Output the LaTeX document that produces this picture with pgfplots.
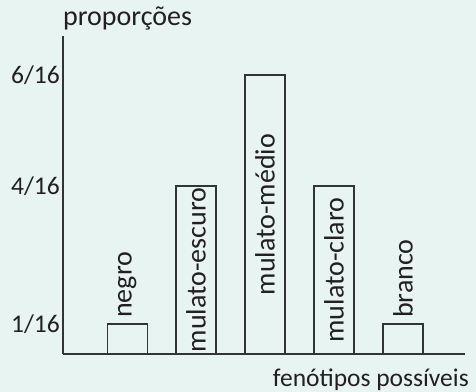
\documentclass[border=0pt]{standalone}
\usepackage{fontspec}
\setmainfont{Carlito}
\usepackage{pgfplots}
\pgfplotsset{compat=1.18}
\definecolor{bgmint}{HTML}{E8F4F2}
\definecolor{ink}{HTML}{231F20}
\definecolor{lineink}{HTML}{333333}
\newcommand\wordfont{\fontsize{28bp}{32bp}\selectfont}
\newcommand\labelfont{\fontsize{25.5bp}{30bp}\selectfont}
\newcommand\tickfont{\fontsize{25.5bp}{30bp}\selectfont}

\begin{document}
\begin{tikzpicture}
% page background
\fill[bgmint] (-63bp,-38bp) rectangle (413bp,354bp);
\begin{axis}[
  at={(0,0)}, anchor=south west,
  scale only axis, width=402bp, height=318bp,
  xmin=0.07, xmax=5.9, ymin=0, ymax=10.6,
  axis x line=bottom, axis y line=left,
  axis line style={-, lineink, line width=1.2bp},
  xtick=\empty,
  ytick={1,5.6,9.3}, yticklabels={\mbox{1/16},\mbox{4/16},\mbox{6/16}},
  major tick length=0pt,
  yticklabel style={inner sep=0pt, xshift=-3bp, text=ink, font=\tickfont},
  xlabel={fenótipos possíveis},
  xlabel style={at={(axis description cs:1,0)}, anchor=base east,
    yshift=-32bp, xshift=4bp, inner sep=0pt, text=ink, font=\labelfont},
  clip=false,
  ybar, bar width=0.58,
]
% heights as drawn (schematic, not to scale): 1/16, 4/16, 6/16
\addplot[draw=lineink, fill=none, line width=1.2bp] coordinates {
  (1,1) (2,5.6) (3,9.3) (4,5.6) (5,1)};
\begin{scope}[every node/.style={rotate=90, inner sep=0pt, text=ink, font=\wordfont}]
\node[anchor=west] at (axis cs:1,1.2) {negro};
\node at (axis cs:2,2.8) {mulato-escuro};
\node at (axis cs:3,4.65) {mulato-médio};
\node at (axis cs:4,2.8) {mulato-claro};
\node[anchor=west] at (axis cs:5,1.2) {branco};
\end{scope}
\node[anchor=base west, inner sep=0pt, yshift=10bp, text=ink, font=\wordfont] at (rel axis cs:0,1) {proporções};
\end{axis}
\pgfresetboundingbox
\useasboundingbox (-63bp,-38bp) rectangle (413bp,354bp);
\end{tikzpicture}
\end{document}
